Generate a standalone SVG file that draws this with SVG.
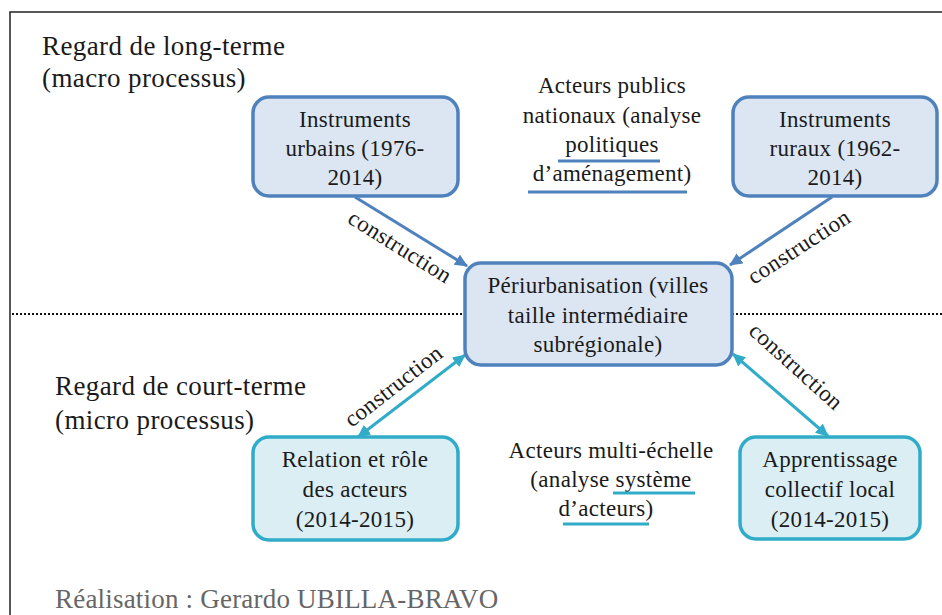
<svg xmlns="http://www.w3.org/2000/svg" width="942" height="615" viewBox="0 0 942 615" font-family="'Liberation Serif', 'Times New Roman', Tinos, 'DejaVu Serif', 'Noto Serif', serif">
<defs>
<style>
text{font-family:'Liberation Serif','Times New Roman',Tinos,'DejaVu Serif','Noto Serif',serif;fill:#1a1a1a}
.bt{font-size:23px;letter-spacing:0.3px;text-anchor:middle}
.lab{font-size:27px;letter-spacing:0.4px}
.con{font-size:23px;letter-spacing:0.3px;text-anchor:middle}
.nb rect{fill:#dce6f2;stroke:#4f81bd;stroke-width:3.5}
.nc rect{fill:#dbeef4;stroke:#31acc8;stroke-width:3.5}
.ab{stroke:#4f81bd;stroke-width:3;fill:none}
.ac{stroke:#31acc8;stroke-width:3;fill:none}
.ulb{stroke:#4f81bd;stroke-width:3}
.ulc{stroke:#31acc8;stroke-width:3}
</style>
<marker id="hb" markerUnits="userSpaceOnUse" markerWidth="14" markerHeight="12" refX="12" refY="6" orient="auto">
<path d="M0,0 L13,6 L0,12 Z" fill="#4f81bd"/>
</marker>
<marker id="hc" markerUnits="userSpaceOnUse" markerWidth="14" markerHeight="12" refX="12" refY="6" orient="auto-start-reverse">
<path d="M0,0 L13,6 L0,12 Z" fill="#31acc8"/>
</marker>
</defs>
<rect width="942" height="615" fill="#ffffff"/>
<path d="M10,615 V12 H942" fill="none" stroke="#222" stroke-width="1.5"/>
<g id="divider">
<line x1="12" y1="314" x2="465" y2="314" stroke="#111" stroke-width="2" stroke-dasharray="2,2"/>
<line x1="732" y1="314" x2="942" y2="314" stroke="#111" stroke-width="2" stroke-dasharray="2,2"/>
</g>
<g id="labels">
<text class="lab" x="42" y="55">Regard de long-terme</text>
<text class="lab" x="42" y="87">(macro processus)</text>
<text class="lab" x="55" y="395">Regard de court-terme</text>
<text class="lab" x="55" y="429">(micro processus)</text>
<text class="lab" x="55" y="608" style="fill:#666;letter-spacing:0.2px">Réalisation : Gerardo UBILLA-BRAVO</text>
</g>
<g id="acteurs-publics">
<text class="bt" x="612" y="93">Acteurs publics</text>
<text class="bt" x="612" y="123">nationaux (analyse</text>
<text class="bt" x="612" y="152">politiques</text>
<text class="bt" x="612" y="181">d’aménagement)</text>
<line class="ulb" x1="558" y1="161" x2="660" y2="161"/>
<line class="ulb" x1="528" y1="192" x2="687" y2="192"/>
</g>
<g id="acteurs-multi">
<text class="bt" x="611" y="458">Acteurs multi-échelle</text>
<text class="bt" x="611" y="487">(analyse système</text>
<text class="bt" x="606" y="516">d’acteurs)</text>
<line class="ulc" x1="613" y1="493" x2="695" y2="493"/>
<line class="ulc" x1="563" y1="524" x2="649" y2="524"/>
</g>
<g id="connectors">
<line class="ab" x1="355" y1="197" x2="467" y2="266" marker-end="url(#hb)"/>
<line class="ab" x1="832" y1="197" x2="730" y2="265" marker-end="url(#hb)"/>
<line class="ac" x1="358" y1="437" x2="465" y2="355" marker-start="url(#hc)" marker-end="url(#hc)"/>
<line class="ac" x1="733" y1="354" x2="828" y2="436" marker-start="url(#hc)" marker-end="url(#hc)"/>
<text class="con" transform="translate(396,253) rotate(32)">construction</text>
<text class="con" transform="translate(803,253) rotate(-33)">construction</text>
<text class="con" transform="translate(398,392) rotate(-38)">construction</text>
<text class="con" transform="translate(791,372) rotate(42)">construction</text>
</g>
<g id="instruments-urbains" class="nb">
<rect x="253" y="97" width="205" height="99" rx="16"/>
<text class="bt" x="355" y="127">Instruments</text>
<text class="bt" x="355" y="156">urbains (1976-</text>
<text class="bt" x="355" y="185">2014)</text>
</g>
<g id="instruments-ruraux" class="nb">
<rect x="733" y="97" width="204" height="99" rx="16"/>
<text class="bt" x="835" y="127">Instruments</text>
<text class="bt" x="835" y="156">ruraux (1962-</text>
<text class="bt" x="835" y="185">2014)</text>
</g>
<g id="periurbanisation" class="nb">
<rect x="465" y="263" width="267" height="102" rx="16"/>
<text class="bt" x="598" y="293">Périurbanisation (villes</text>
<text class="bt" x="598" y="323">taille intermédiaire</text>
<text class="bt" x="598" y="352">subrégionale)</text>
</g>
<g id="relation" class="nc">
<rect x="253" y="437" width="205" height="103" rx="16"/>
<text class="bt" x="355" y="467">Relation et rôle</text>
<text class="bt" x="355" y="497">des acteurs</text>
<text class="bt" x="355" y="527">(2014-2015)</text>
</g>
<g id="apprentissage" class="nc">
<rect x="740" y="437" width="180" height="102" rx="16"/>
<text class="bt" x="830" y="467">Apprentissage</text>
<text class="bt" x="830" y="497">collectif local</text>
<text class="bt" x="830" y="527">(2014-2015)</text>
</g>
</svg>
